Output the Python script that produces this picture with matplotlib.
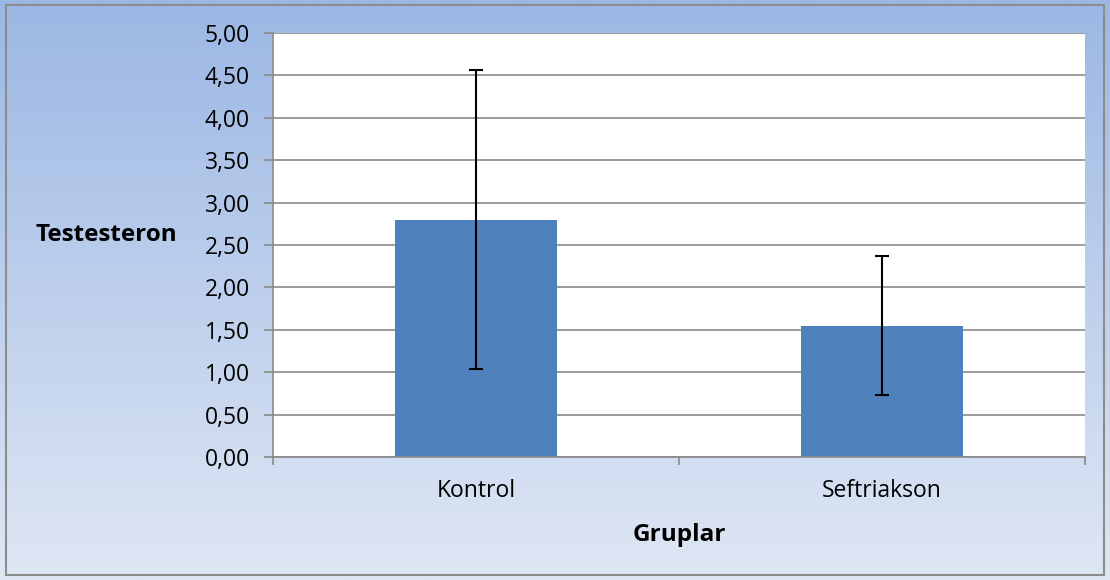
import numpy as np
import matplotlib
matplotlib.use("Agg")
from matplotlib import pyplot as plt
from matplotlib.patches import Rectangle

groups = ['Kontrol', 'Seftriakson']
means = [2.80, 1.55]
errors = [1.76, 0.82]
yticks = [0.0, 0.5, 1.0, 1.5, 2.0, 2.5, 3.0, 3.5, 4.0, 4.5, 5.0]

plt.rcParams['font.family'] = ['Open Sans', 'DejaVu Sans']

fig = plt.figure(figsize=(11.1, 5.8), dpi=100)

# gradient background for the chart area
bg = fig.add_axes([0, 0, 1, 1], zorder=0)
grad = np.linspace(0, 1, 256).reshape(-1, 1)
top = np.array([155, 183, 228]) / 255
bottom = np.array([223, 231, 244]) / 255
img = top + (bottom - top) * grad[:, :, None]
bg.imshow(img, aspect='auto', extent=[0, 1, 0, 1], origin='upper')
bg.add_patch(Rectangle((6 / 1110, 5 / 580), 1098 / 1110, 570 / 580, fill=False,
                       edgecolor='#8c8c8c', linewidth=1.5))
bg.set_xlim(0, 1)
bg.set_ylim(0, 1)
bg.axis('off')

ax = fig.add_axes([273 / 1110, 123 / 580, 812 / 1110, 424 / 580], zorder=1)
ax.set_facecolor('white')
x = np.arange(len(groups))
ax.bar(x, means, width=0.4, color='#4f81bd', zorder=2)
ax.errorbar(x, means, yerr=errors, fmt='none', ecolor='black', elinewidth=1.5,
            capsize=5, capthick=1.5, zorder=3)

ax.set_xlim(-0.5, 1.5)
ax.set_ylim(0, 5)
ax.set_yticks(yticks)
ax.set_yticklabels([f'{v:.2f}'.replace('.', ',') for v in yticks], fontsize=16.5)
ax.yaxis.grid(True, color='#8a8a8a', linewidth=1.2, zorder=1)
ax.set_axisbelow(True)

ax.set_xticks(x)
ax.set_xticklabels(groups, fontsize=16.5)
ax.set_xticks([-0.5, 0.5, 1.5], minor=True)
ax.tick_params(axis='x', which='major', length=0, pad=16)
ax.tick_params(axis='x', which='minor', length=6, color='#8a8a8a', width=1.2)
ax.tick_params(axis='y', length=6.5, color='#8a8a8a', width=1.2, pad=10)

for side in ['top', 'right']:
    ax.spines[side].set_visible(False)
for side in ['left', 'bottom']:
    ax.spines[side].set_color('#8a8a8a')
    ax.spines[side].set_linewidth(1.2)

fig.text(35 / 1110, 1 - 235 / 580, 'Testesteron', fontsize=17.5, fontweight='bold',
         ha='left', va='center')
fig.text(679 / 1110, 1 - 535 / 580, 'Gruplar', fontsize=17.5, fontweight='bold',
         ha='center', va='center')

plt.savefig('out.png', dpi=100)
